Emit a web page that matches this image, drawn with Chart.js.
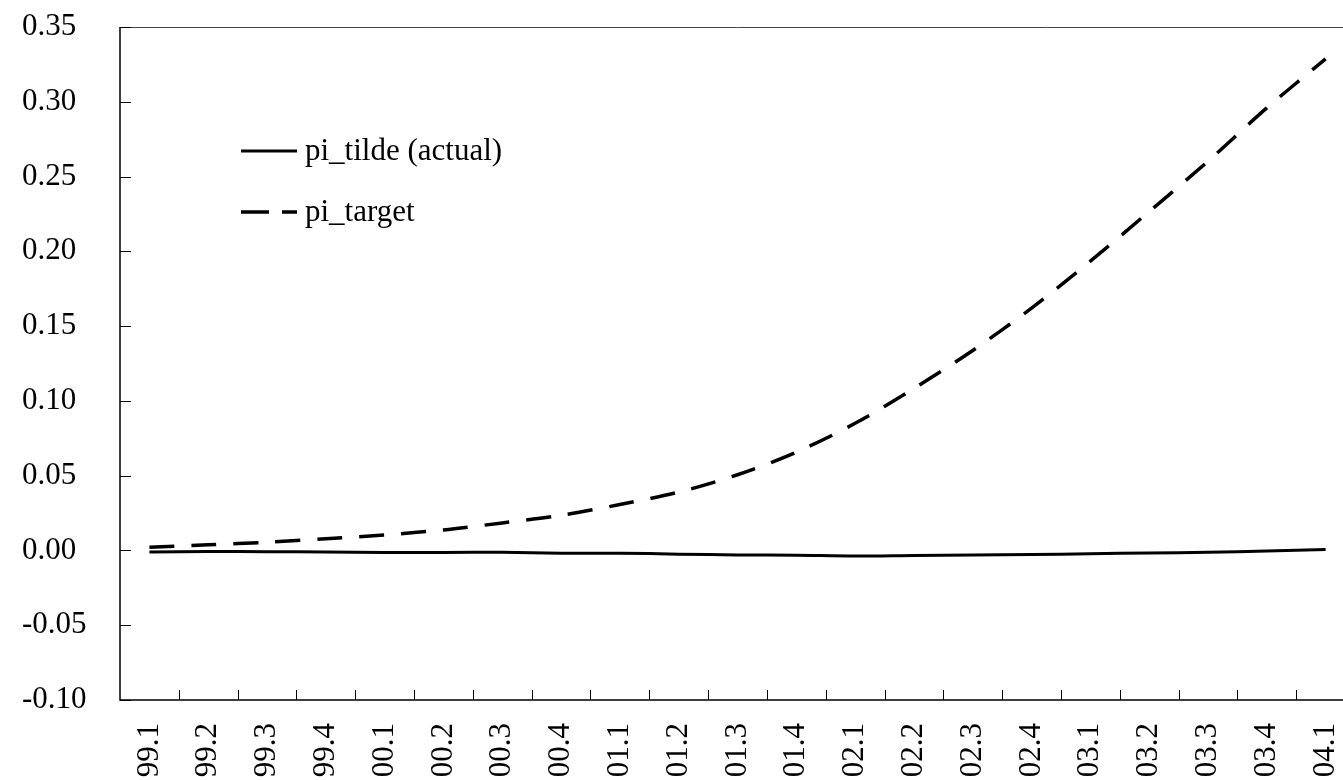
<!DOCTYPE html>
<html>
<head>
<meta charset="utf-8">
<script src="https://cdn.jsdelivr.net/npm/chart.js@4.4.1/dist/chart.umd.min.js"></script>
<style>
  html, body { margin: 0; padding: 0; background: #fff; overflow: hidden; }
  #wrap { width: 1360px; height: 780px; }
</style>
</head>
<body>
<div id="wrap"><canvas id="chart" width="1360" height="780"></canvas></div>
<script>
// quarters, 99.1 .. 04.1
const quarters = ['99.1','99.2','99.3','99.4','00.1','00.2','00.3','00.4','01.1','01.2','01.3','01.4',
                  '02.1','02.2','02.3','02.4','03.1','03.2','03.3','03.4','04.1'];

const piTilde = [-0.0011, -0.0007, -0.0009, -0.0010, -0.0013, -0.0013, -0.0012, -0.0018, -0.0018, -0.0025, -0.0030,
                 -0.0032, -0.0037, -0.0033, -0.0030, -0.0027, -0.0022, -0.0017, -0.0012, -0.0004, 0.0007];

const piTarget = [0.0022, 0.0038, 0.0055, 0.0078, 0.0104, 0.0137, 0.0184, 0.0235, 0.0307, 0.0390, 0.0506,
                  0.0657, 0.0850, 0.1083, 0.1337, 0.1620, 0.1934, 0.2266, 0.2602, 0.2959, 0.3287];

const yMin = -0.10;
const yMax = 0.35;
const yStep = 0.05;

const FONT = "'Liberation Serif', 'Times New Roman', serif";

// frame + inward tick marks, like the original spreadsheet chart
const framePlugin = {
  id: 'frame',
  afterDraw(chart) {
    const { ctx, chartArea: a } = chart;
    const x = chart.scales.x;
    const y = chart.scales.y;
    ctx.save();
    ctx.strokeStyle = '#000';
    ctx.lineWidth = 1.5;
    ctx.beginPath();
    ctx.moveTo(a.left, a.top);
    ctx.lineTo(a.left, a.bottom);
    ctx.lineTo(a.right, a.bottom);
    ctx.stroke();

    ctx.strokeStyle = '#444';
    ctx.lineWidth = 1;
    ctx.beginPath();
    ctx.moveTo(a.left, a.top + 0.5);
    ctx.lineTo(a.right, a.top + 0.5);
    ctx.lineTo(a.right, a.bottom);
    ctx.stroke();

    ctx.strokeStyle = '#000';
    ctx.lineWidth = 1;
    ctx.beginPath();
    y.ticks.forEach(t => {
      const py = Math.round(y.getPixelForValue(t.value)) + 0.5;
      ctx.moveTo(a.left, py);
      ctx.lineTo(a.left + 11, py);
    });
    for (let i = 1; i < quarters.length; i++) {
      const px = Math.round((x.getPixelForValue(i - 1) + x.getPixelForValue(i)) / 2) + 0.5;
      ctx.moveTo(px, a.bottom);
      ctx.lineTo(px, a.bottom - 10);
    }
    ctx.stroke();
    ctx.restore();
  }
};

// legend drawn inside the plot, top left
const legendPlugin = {
  id: 'innerLegend',
  afterDraw(chart) {
    const { ctx, chartArea: a } = chart;
    const rows = [a.top + 124, a.top + 185];
    ctx.save();
    chart.data.datasets.forEach((ds, i) => {
      const yy = rows[i];
      const x0 = a.left + 121;
      const x1 = a.left + 177;
      ctx.strokeStyle = ds.borderColor;
      ctx.lineWidth = ds.borderWidth;
      ctx.setLineDash(ds.borderDash ? [28, 13] : []);
      ctx.beginPath();
      ctx.moveTo(x0, yy);
      ctx.lineTo(x1, yy);
      ctx.stroke();
      ctx.setLineDash([]);
      ctx.fillStyle = '#000';
      ctx.font = '31px ' + FONT;
      ctx.textBaseline = 'middle';
      ctx.textAlign = 'left';
      ctx.fillText(ds.label, x1 + 8, yy + 1);
    });
    ctx.restore();
  }
};

new Chart(document.getElementById('chart').getContext('2d'), {
  type: 'line',
  data: {
    labels: quarters,
    datasets: [
      {
        label: 'pi_tilde (actual)',
        data: piTilde,
        borderColor: '#000',
        borderWidth: 3,
        pointRadius: 0,
        tension: 0.3,
        fill: false
      },
      {
        label: 'pi_target',
        data: piTarget,
        borderColor: '#000',
        borderWidth: 3.5,
        borderDash: [25, 17],
        pointRadius: 0,
        tension: 0.3,
        fill: false
      }
    ]
  },
  options: {
    responsive: false,
    animation: false,
    layout: { padding: { left: 22, right: 5, top: 27, bottom: 0 } },
    plugins: {
      legend: { display: false },
      tooltip: { enabled: false }
    },
    scales: {
      x: {
        type: 'category',
        offset: true,
        grid: { display: false, drawTicks: false },
        border: { display: false },
        ticks: {
          color: '#000',
          font: { family: FONT, size: 31 },
          minRotation: 90,
          maxRotation: 90,
          autoSkip: false,
          padding: 23
        },
        afterFit(scale) {
          scale.height = 80;
          // plot runs off the right edge in the original, no room kept for the last label
          scale.paddingRight = 0;
          scale.paddingLeft = 0;
        }
      },
      y: {
        min: yMin,
        max: yMax,
        grid: { display: false, drawTicks: false },
        border: { display: false },
        ticks: {
          stepSize: yStep,
          color: '#000',
          crossAlign: 'far',
          font: { family: FONT, size: 31 },
          padding: 0,
          callback: v => (Math.abs(v) < 1e-9 ? 0 : v).toFixed(2)
        },
        afterFit(scale) { scale.width = 98; }
      }
    }
  },
  plugins: [framePlugin, legendPlugin]
});
</script>
</body>
</html>
